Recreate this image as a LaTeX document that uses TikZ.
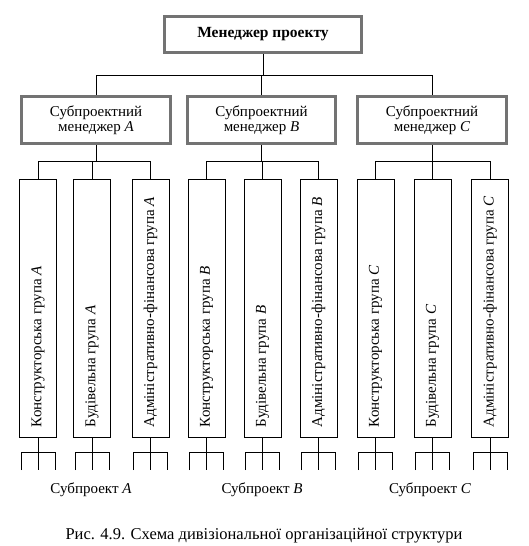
\documentclass[tikz,border=0pt]{standalone}
\usepackage{fontspec}
\setmainfont{Liberation Serif}
\begin{document}
\begin{tikzpicture}[x=1pt,y=-1pt,
  every node/.style={font=\fontsize{15}{15}\selectfont},
  mgrbox/.style={draw=black!55,line width=3pt,rectangle,inner sep=0pt,align=center},
  grpbox/.style={draw,line width=0.8pt,rectangle,minimum width=37pt,minimum height=258pt,inner sep=0pt},
  grptext/.style={rotate=90,anchor=west,inner sep=0pt},
  link/.style={draw,line width=0.8pt}]
\useasboundingbox (0,0) rectangle (529,546);
% top manager
\node[mgrbox,minimum width=197pt,minimum height=36pt,font=\fontsize{15.5}{15}\selectfont\bfseries] (top) at (263,34.5) {Менеджер проекту};
% sub managers
\node[mgrbox,minimum width=149pt,minimum height=47pt] (sA) at (96,120) {Субпроектний\\менеджер \textit{A}};
\node[mgrbox,minimum width=148pt,minimum height=47pt] (sB) at (261.5,120) {Субпроектний\\менеджер \textit{B}};
\node[mgrbox,minimum width=149pt,minimum height=47pt] (sC) at (432,120) {Субпроектний\\менеджер \textit{C}};
% groups
\foreach \n/\x/\l in {A1/38/A,A2/92/A,A3/150.5/A,B1/206.5/B,B2/262.5/B,B3/318.5/B,C1/375.5/C,C2/432.5/C,C3/490/C}{
  \node[grpbox] (g\n) at (\x,308) {};
}
\foreach \l in {A,B,C}{
  \node[grptext] (t\l1) at ([yshift=10pt]g\l1.south) {Конструкторська група \textit{\l}};
  \node[grptext] (t\l2) at ([yshift=10pt]g\l2.south) {Будівельна група \textit{\l}};
  \node[grptext] (t\l3) at ([yshift=10pt]g\l3.south) {Адміністративно-фінансова група \textit{\l}};
}
% connectors top level
\coordinate (busT) at (0,75);
\draw[link] (top.south) -- (top.south |- busT);
\draw[link] (sA.north) -- (sA.north |- busT) -- (sC.north |- busT) -- (sC.north);
\draw[link] (sB.north) -- (sB.north |- busT);
% connectors sub level
\coordinate (busS) at (0,161);
\foreach \l in {A,B,C}{
  \draw[link] (s\l.south) -- (s\l.south |- busS);
  \draw[link] (g\l1.north) -- (g\l1.north |- busS) -- (g\l3.north |- busS) -- (g\l3.north);
  \draw[link] (g\l2.north) -- (g\l2.north |- busS);
}
% bottom ticks
\coordinate (busB) at (0,452);
\coordinate (tipB) at (0,470);
\foreach \n in {A1,A2,A3,B1,B2,B3,C1,C2,C3}{
  \draw[link] (g\n.south) -- (g\n.south |- busB);
  \draw[link] ([xshift=2pt]g\n.south west |- tipB) -- ([xshift=2pt]g\n.south west |- busB) -- ([xshift=-2pt]g\n.south east |- busB) -- ([xshift=-2pt]g\n.south east |- tipB);
  \draw[link] (g\n.south |- busB) -- (g\n.south |- tipB);
}
% subproject labels
\node (pA) at (91,490) {Субпроект \textit{A}};
\node (pB) at (262,490) {Субпроект \textit{B}};
\node (pC) at (430,490) {Субпроект \textit{C}};
% caption
\node[font=\fontsize{16.5}{16}\selectfont] (cap) at (264,536) {Рис. 4.9. Схема дивізіональної організаційної структури};
\end{tikzpicture}
\end{document}
